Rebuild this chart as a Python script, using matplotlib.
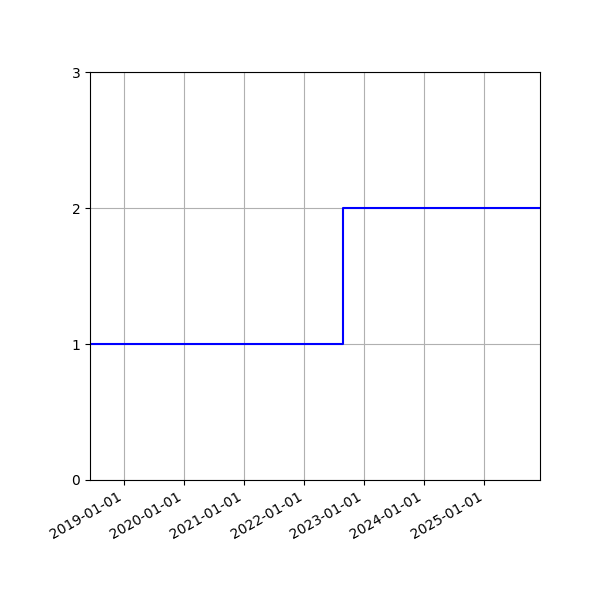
import matplotlib
matplotlib.use("Agg")
import matplotlib.pyplot as plt
import matplotlib.dates as mdates
import datetime as dt

dates = ["2018-06-06", "2022-08-26", "2025-12-06"]
values = [1, 2, 2]

x = [dt.datetime.strptime(d, "%Y-%m-%d") for d in dates]

fig, ax = plt.subplots(figsize=(6, 6), dpi=100)
fig.subplots_adjust(left=0.15, right=0.9, top=0.88)
ax.plot(x, values, drawstyle="steps-post", color="blue")
ax.set_xlim(x[0], x[-1])
ax.set_ylim(0, 3)
ax.set_yticks([0, 1, 2, 3])
ax.xaxis.set_major_locator(mdates.YearLocator())
ax.xaxis.set_major_formatter(mdates.DateFormatter("%Y-%m-%d"))
ax.grid(True)
fig.autofmt_xdate()
fig.savefig("out.png")
